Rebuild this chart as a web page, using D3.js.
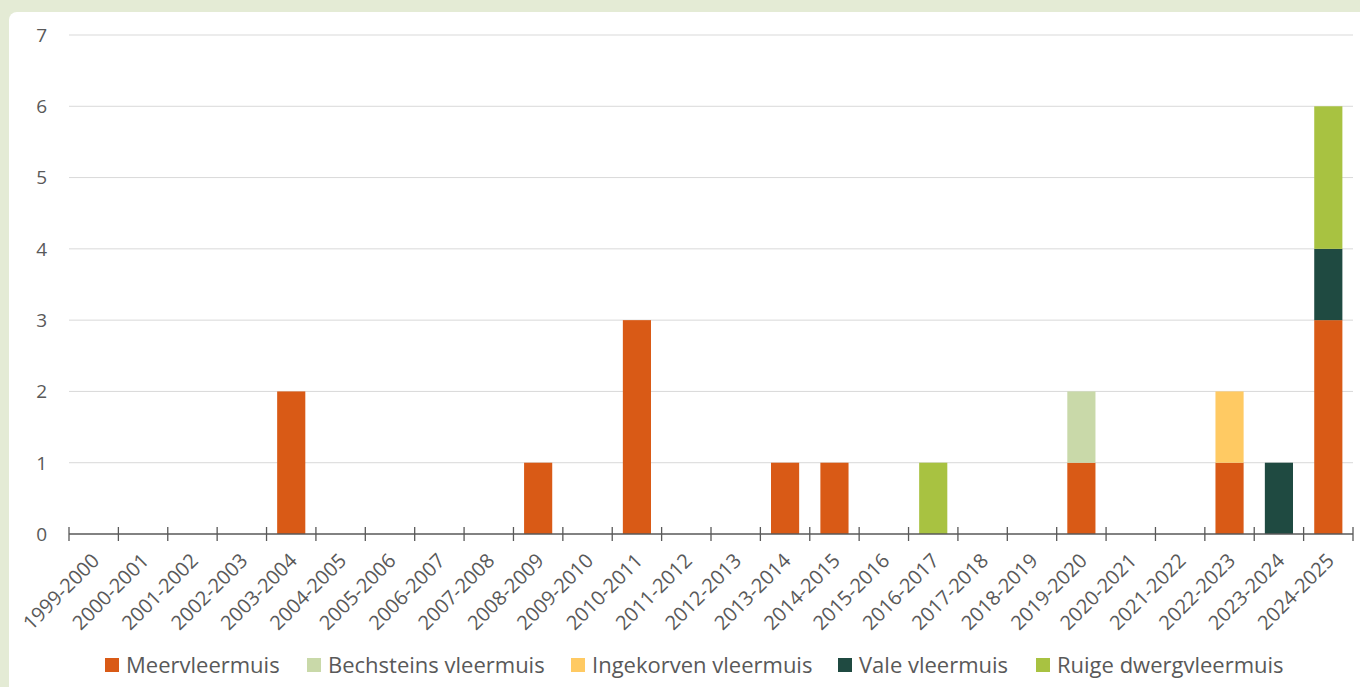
<!DOCTYPE html>
<html>
<head>
<meta charset="utf-8">
<script src="https://cdn.jsdelivr.net/npm/d3@7"></script>
<style>
  html, body { margin: 0; padding: 0; background: #e4ebd5; }
  svg { display: block; }
  text { font-family: "Open Sans", "Liberation Sans", sans-serif; fill: #595959; }
</style>
</head>
<body>
<svg id="chart" width="1360" height="687"></svg>
<script>
const seasons = ["1999-2000","2000-2001","2001-2002","2002-2003","2003-2004","2004-2005","2005-2006","2006-2007","2007-2008","2008-2009","2009-2010","2010-2011","2011-2012","2012-2013","2013-2014","2014-2015","2015-2016","2016-2017","2017-2018","2018-2019","2019-2020","2020-2021","2021-2022","2022-2023","2023-2024","2024-2025"];

const speciesNames = ["Meervleermuis","Bechsteins vleermuis","Ingekorven vleermuis","Vale vleermuis","Ruige dwergvleermuis"];
const speciesColors = ["#d95a16","#c9d9a9","#ffca63","#1f4a41","#a8c241"];

const meervleermuis = [0,0,0,0,2,0,0,0,0,1,0,3,0,0,1,1,0,0,0,0,1,0,0,1,0,3];
const bechsteins    = [0,0,0,0,0,0,0,0,0,0,0,0,0,0,0,0,0,0,0,0,1,0,0,0,0,0];
const ingekorven    = [0,0,0,0,0,0,0,0,0,0,0,0,0,0,0,0,0,0,0,0,0,0,0,1,0,0];
const vale          = [0,0,0,0,0,0,0,0,0,0,0,0,0,0,0,0,0,0,0,0,0,0,0,0,1,1];
const ruige         = [0,0,0,0,0,0,0,0,0,0,0,0,0,0,0,0,0,1,0,0,0,0,0,0,0,2];

const yTicks = [0,1,2,3,4,5,6,7];

const seriesValues = [meervleermuis, bechsteins, ingekorven, vale, ruige];
const rows = seasons.map((s, i) => {
  const r = { season: s };
  speciesNames.forEach((n, k) => { r[n] = seriesValues[k][i]; });
  return r;
});

const svg = d3.select("#chart");

// white card on the green page
svg.append("rect")
  .attr("x", 9).attr("y", 12)
  .attr("width", 1400).attr("height", 720)
  .attr("rx", 8).attr("ry", 8)
  .attr("fill", "#ffffff");

const plot = { left: 69, right: 1353, top: 35, bottom: 534 };

const x = d3.scaleBand()
  .domain(seasons)
  .range([plot.left, plot.right])
  .paddingInner(0.43)
  .paddingOuter(0.215);

const y = d3.scaleLinear()
  .domain([0, 7])
  .range([plot.bottom, plot.top]);

// gridlines
svg.append("g")
  .selectAll("line")
  .data(yTicks.filter(d => d > 0))
  .join("line")
  .attr("x1", plot.left).attr("x2", plot.right)
  .attr("y1", d => y(d)).attr("y2", d => y(d))
  .attr("stroke", "#d9d9d9").attr("stroke-width", 1);

// y tick labels
svg.append("g")
  .selectAll("text")
  .data(yTicks)
  .join("text")
  .attr("x", 47)
  .attr("y", d => y(d))
  .attr("dy", "0.36em")
  .attr("text-anchor", "end")
  .attr("font-size", 19)
  .text(d => d);

// stacked bars
const stack = d3.stack().keys(speciesNames);
const layers = stack(rows);

svg.append("g")
  .selectAll("g")
  .data(layers)
  .join("g")
  .attr("fill", (d, i) => speciesColors[i])
  .selectAll("rect")
  .data(d => d.filter(p => p[1] - p[0] > 0))
  .join("rect")
  .attr("x", d => x(d.data.season))
  .attr("width", x.bandwidth())
  .attr("y", d => y(d[1]))
  .attr("height", d => y(d[0]) - y(d[1]));

// x axis with crossing ticks at category boundaries
const boundaries = d3.range(seasons.length + 1).map(i => plot.left + i * x.step());
const axisG = svg.append("g");
axisG.append("line")
  .attr("x1", plot.left).attr("x2", plot.right)
  .attr("y1", y(0)).attr("y2", y(0))
  .attr("stroke", "#595959").attr("stroke-width", 1.3);
axisG.selectAll("line.tick")
  .data(boundaries)
  .join("line")
  .attr("class", "tick")
  .attr("x1", d => d).attr("x2", d => d)
  .attr("y1", y(0) - 7).attr("y2", y(0) + 7)
  .attr("stroke", "#595959").attr("stroke-width", 1.3);

axisG.selectAll("text")
  .data(seasons)
  .join("text")
  .attr("text-anchor", "end")
  .attr("font-size", 20)
  .attr("transform", d => `translate(${x(d) + x.bandwidth() / 2 + 7},${y(0) + 28}) rotate(-45)`)
  .text(d => d);

// legend
const legendItems = [
  { name: speciesNames[0], color: speciesColors[0], x: 105 },
  { name: speciesNames[1], color: speciesColors[1], x: 307 },
  { name: speciesNames[2], color: speciesColors[2], x: 571 },
  { name: speciesNames[3], color: speciesColors[3], x: 838 },
  { name: speciesNames[4], color: speciesColors[4], x: 1036 }
];
const legend = svg.append("g");
const lg = legend.selectAll("g")
  .data(legendItems)
  .join("g")
  .attr("transform", d => `translate(${d.x},665)`);
lg.append("rect")
  .attr("x", 0).attr("y", -7)
  .attr("width", 14).attr("height", 14)
  .attr("fill", d => d.color);
lg.append("text")
  .attr("x", 21)
  .attr("y", 0)
  .attr("dy", "0.36em")
  .attr("font-size", 22)
  .text(d => d.name);
</script>
</body>
</html>
